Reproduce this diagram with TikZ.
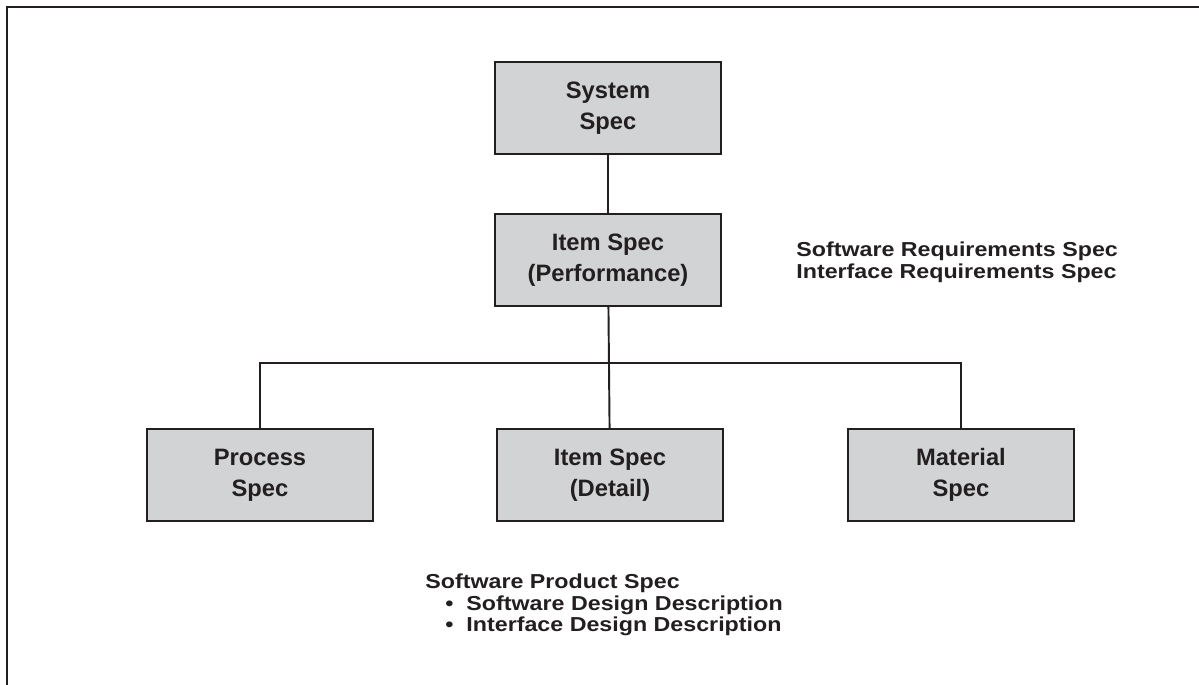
\documentclass[tikz,border=0pt]{standalone}
\usepackage{fontspec}
\setmainfont{Liberation Sans}
\newfontfamily\notefont[FakeStretch=1.15]{Liberation Sans}
\usetikzlibrary{positioning}
\definecolor{ink}{HTML}{231F20}
\definecolor{boxgray}{HTML}{D1D3D4}
\tikzset{
  specbox/.style={draw=ink, fill=boxgray, line width=1.4pt, minimum width=4.52cm,
    minimum height=1.84cm, inner sep=0pt, align=center, text=ink,
    font=\fontsize{13.5}{17.6}\selectfont\bfseries},
  notetext/.style={align=left, inner sep=0pt, text=ink,
    font=\notefont\fontsize{11.5}{12}\selectfont\bfseries},
  link/.style={draw=ink, line width=1.1pt},
}

\begin{document}
\begin{tikzpicture}[x=0.02cm,y=-0.02cm]
\useasboundingbox (0,0) rectangle (1199,685);
% frame
\draw[ink,line width=1.4pt] (1199,7) -- (7,7) -- (7,685);

% boxes
\node[specbox] (sys) at (608,108) {System\\Spec};
\node[specbox] (perf) at (608,260) {Item Spec\\(Performance)};
\node[specbox] (proc) at (260,475) {Process\\Spec};
\node[specbox] (detail) at (610,475) {Item Spec\\(Detail)};
\node[specbox] (mat) at (961,475) {Material\\Spec};

% connectors
\coordinate (bus) at (610,363);
\draw[link] (sys) -- (perf);
\draw[link] (perf) -- (detail);
\draw[link] (proc.north) |- (bus) -| (mat.north);

% notes
\node[notetext,anchor=north west] (srs) at (796,242)
  {Software Requirements Spec\\Interface Requirements Spec};
\node[notetext,anchor=north west] (sps) at (425,574)
  {Software Product Spec\\
   \hspace*{0.4cm}\textbullet\hspace{0.26cm}Software Design Description\\
   \hspace*{0.4cm}\textbullet\hspace{0.26cm}Interface Design Description};

\end{tikzpicture}
\end{document}
